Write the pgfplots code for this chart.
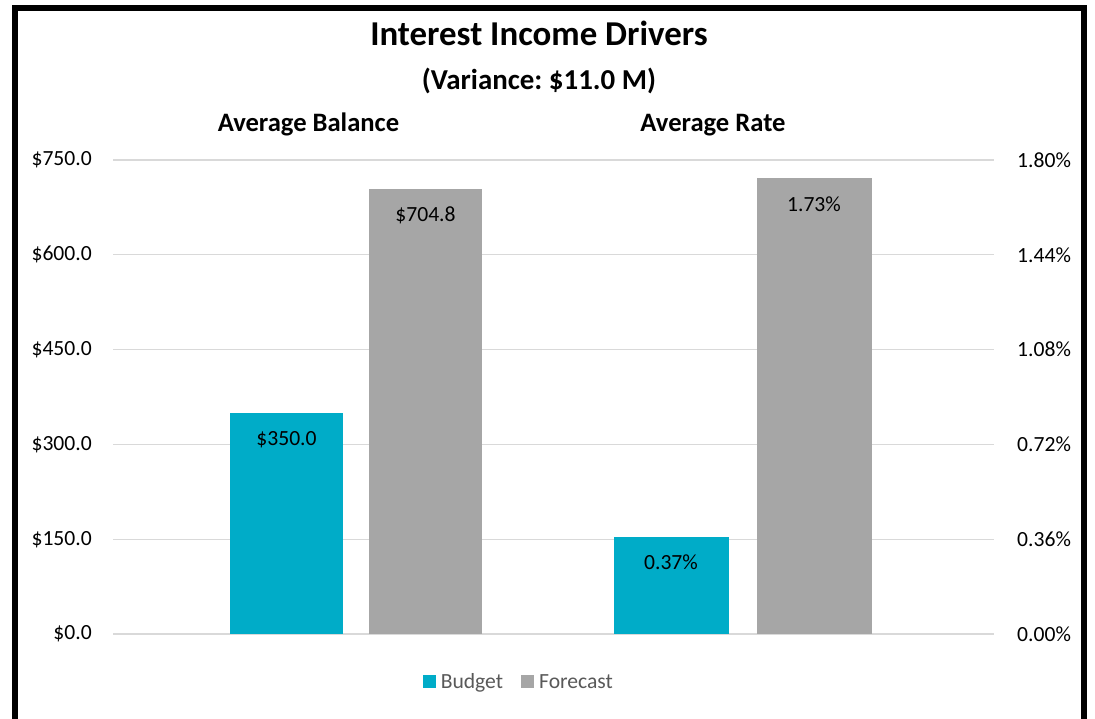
\documentclass[border=0pt]{standalone}
\usepackage{pgfplots}
\pgfplotsset{compat=1.18}
\usepackage{fontspec}
\setmainfont{Carlito}
\frenchspacing
\definecolor{budget}{RGB}{0,172,200}
\definecolor{forecast}{RGB}{166,166,166}
\definecolor{gridc}{RGB}{217,217,217}
\definecolor{legtext}{RGB}{89,89,89}
\begin{document}
\begin{tikzpicture}[x=1bp,y=1bp]
\useasboundingbox (0,0) rectangle (1095,719);
\fill[white] (0,0) rectangle (1095,719);
\begin{scope}
\clip (0,0) rectangle (1095,719);
\draw[line width=5.5bp] (15,-40) -- (15,711) -- (1084,711) -- (1084,-40);
\end{scope}
% titles
\node[anchor=base,font=\fontsize{35}{40}\selectfont\bfseries] at (539,719-46) {Interest Income Drivers};
\node[anchor=base,font=\fontsize{29}{34}\selectfont\bfseries] at (539,719-90) {(Variance: \$11.0 M)};
\node[anchor=base,font=\fontsize{26.7}{31}\selectfont\bfseries] at (308.5,719-132) {Average Balance};
\node[anchor=base,font=\fontsize{26.7}{31}\selectfont\bfseries] at (713,719-132) {Average Rate};
\pgfplotsset{
  base/.style={
    scale only axis, anchor=south west,
    height=474bp,
    ymin=0,
    xmin=-1, xmax=1, xtick=\empty,
    axis line style={draw=none},
    major tick length=0pt,
    ymajorgrids, grid style={gridc, line width=1.3bp},
    ticklabel style={font=\fontsize{21.7}{26}\selectfont},
    /pgf/number format/assume math mode=true,
    ybar, bar width=113bp,
    nodes near coords style={font=\fontsize{21.7}{26}\selectfont, anchor=north, inner sep=0pt, yshift=-18bp, black},
    clip=false,
  },
}
\begin{axis}[base, at={(113bp,85bp)}, width=486bp,
  ymax=750, ytick={0,150,300,450,600,750},
  yticklabel={\$\pgfmathprintnumber[fixed,fixed zerofill,precision=1]{\tick}},
  yticklabel style={anchor=east, inner sep=0pt, xshift=-21bp},
  nodes near coords={\$\pgfmathprintnumber[fixed,fixed zerofill,precision=1]{\pgfplotspointmeta}},
  legend style={at={(0.833,-0.101)}, anchor=center, draw=none, fill=none,
    legend columns=2, font=\fontsize{21.7}{26}\selectfont\color{legtext},
    /tikz/every even column/.append style={column sep=18bp},
    /tikz/every odd column/.append style={column sep=0bp},
    legend cell align=left, inner sep=0pt,
    nodes={inner sep=0pt, xshift=0bp}},
  legend image code/.code={\fill[#1,draw=none] (0bp,-6.5bp) rectangle (13bp,6.5bp);},
]
\addplot[fill=budget, draw=none, bar shift=-69.5bp] coordinates {(0,350.0)};
\addplot[fill=forecast, draw=none, bar shift=69.5bp] coordinates {(0,704.8)};
\legend{\hspace{5bp}Budget,\hspace{5bp}Forecast}
\end{axis}
\begin{axis}[base, at={(491bp,85bp)}, width=503bp,
  ymax=1.8, ytick={0,0.36,0.72,1.08,1.44,1.8},
  yticklabel={\pgfmathprintnumber[fixed,fixed zerofill,precision=2]{\tick}\%},
  yticklabel pos=right,
  yticklabel style={anchor=west, inner sep=0pt, xshift=23bp},
  bar width=115bp,
  nodes near coords={\pgfmathprintnumber[fixed,fixed zerofill,precision=2]{\pgfplotspointmeta}\%},
]
\addplot[fill=budget, draw=none, bar shift=-71.5bp] coordinates {(0,0.37)};
\addplot[fill=forecast, draw=none, bar shift=71.5bp] coordinates {(0,1.73)};
\end{axis}
\end{tikzpicture}
\end{document}
